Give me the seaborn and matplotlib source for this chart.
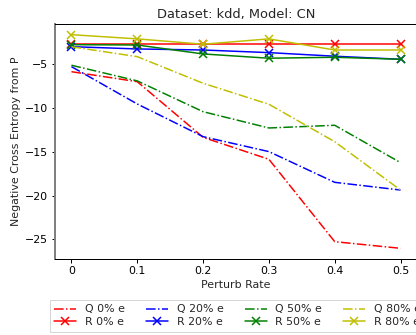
import matplotlib
matplotlib.use("Agg")
import matplotlib.pyplot as plt
import seaborn as sns
import pandas as pd

sns.set_style("white")
plt.rcParams['font.family'] = ['DejaVu Sans']

rates = [0, 0.1, 0.2, 0.3, 0.4, 0.5]
xtick_labels = ["0", "0.1", "0.2", "0.3", "0.4", "0.5"]

q0 = [-5.85, -6.99, -13.35, -15.86, -25.27, -26.03]
q20 = [-5.27, -9.54, -13.27, -14.98, -18.49, -19.37]
q50 = [-5.11, -6.90, -10.42, -12.28, -11.97, -16.24]
q80 = [-3.00, -4.13, -7.17, -9.57, -13.85, -19.37]

r0 = [-2.70, -2.70, -2.70, -2.70, -2.70, -2.70]
r20 = [-2.99, -3.25, -3.37, -3.67, -4.08, -4.43]
r50 = [-2.76, -2.80, -3.82, -4.31, -4.20, -4.43]
r80 = [-1.62, -2.10, -2.71, -2.10, -3.37, -3.37]

levels = ["0%", "20%", "50%", "80%"]
colors = ["r", "b", "g", "y"]
q_series = [q0, q20, q50, q80]
r_series = [r0, r20, r50, r80]

W, H = 416, 335
fig = plt.figure(figsize=(W / 72, H / 72), dpi=72)
ax = fig.add_axes([55 / W, 1 - 259 / H, (417 - 55) / W, (259 - 24) / H])

for lvl, c, q, r in zip(levels, colors, q_series, r_series):
    df = pd.DataFrame({"x": rates, "q": q, "r": r})
    sns.lineplot(data=df, x="x", y="q", ax=ax, color=c, linewidth=1.5,
                 label=f"Q {lvl} e")
    ln = ax.lines[-1]
    ln.set_linestyle("-.")
    ln.set_marker("None")
    sns.lineplot(data=df, x="x", y="r", ax=ax, color=c, linewidth=1.5,
                 label=f"R {lvl} e")
    ln = ax.lines[-1]
    ln.set_linestyle("-")
    ln.set_marker("x")
    ln.set_markersize(8)
    ln.set_markeredgewidth(1.5)
    ln.set_markeredgecolor(c)

ax.set_xticks(rates)
ax.set_xticklabels(xtick_labels)
ax.set_yticks([-5, -10, -15, -20, -25])
ax.tick_params(axis="both", labelsize=11, length=3.5, width=1, direction="out",
               left=True, bottom=True, colors="black")
ax.set_xlabel("Perturb Rate", fontsize=11)
ax.set_ylabel("Negative Cross Entropy from P", fontsize=11)
ax.set_title("Dataset: kdd, Model: CN", fontsize=13)

for s in ["top", "bottom", "right"]:
    ax.spines[s].set_color("black")
    ax.spines[s].set_linewidth(1.0)
ax.spines["left"].set_color("gray")
ax.spines["left"].set_linewidth(2.0)

ax.get_legend().remove()
handles = ax.get_lines()
labels = [h.get_label() for h in handles]
leg = fig.legend(handles, labels, ncol=4, fontsize=11, loc="upper left",
                 bbox_to_anchor=(50 / W, 1 - 300 / H), borderaxespad=0,
                 frameon=True, edgecolor="#cccccc", fancybox=False,
                 columnspacing=1.9, handlelength=2.0, borderpad=0.4,
                 labelspacing=0.25, handletextpad=0.8)

fig.savefig("out.png", dpi=72)
